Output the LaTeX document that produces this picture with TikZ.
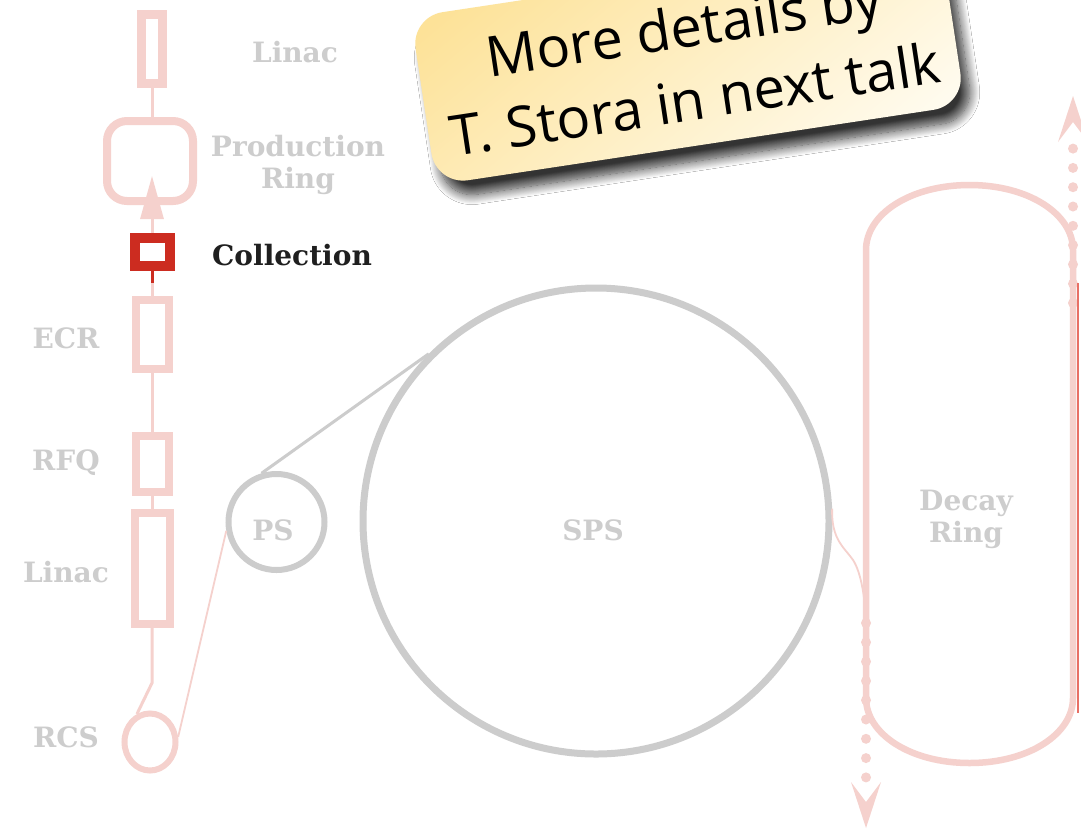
\documentclass[tikz,border=0pt]{standalone}
\usepackage{fontspec}
\setmainfont{DejaVu Serif}
\newfontfamily\notefont{Open Sans}
\usetikzlibrary{arrows.meta,shapes.geometric,shadows.blur}

\definecolor{beampink}{RGB}{245,209,205}
\definecolor{ringgray}{RGB}{204,204,204}
\definecolor{labelgray}{RGB}{205,205,205}
\definecolor{collred}{RGB}{204,44,32}
\definecolor{edgered}{RGB}{232,112,102}
\definecolor{noteyellow}{RGB}{253,226,152}
\definecolor{notecream}{RGB}{255,251,238}

\tikzset{
  stage/.style={draw=beampink, line width=8pt, rectangle, inner sep=0pt, minimum width=33pt},
  beam/.style={draw=beampink, line width=3pt},
  thinbeam/.style={draw=beampink, line width=1.8pt},
  ringbox/.style={draw=ringgray, circle, inner sep=0pt},
  lbl/.style={text=labelgray, font=\fontsize{28}{32}\selectfont\bfseries, inner sep=0pt, anchor=base},
  dotbeam/.style={draw=beampink, line width=10pt, line cap=round, dash pattern=on 0pt off 19.3pt},
  chevron/.style={fill=beampink}
}

\begin{document}
\begin{tikzpicture}[x=1pt,y=-1pt]
\useasboundingbox (0,0) rectangle (1081,831);
\clip (0,0) rectangle (1081,831);
\fill[white] (0,0) rectangle (1081,831);

% ---- injector chain ----
\node[stage, line width=9pt, minimum width=21pt, minimum height=69pt] (linacT) at (152,48.5) {};
\node[stage, minimum width=86pt, minimum height=80pt, rounded corners=20pt] (prod) at (150,161) {};
\node[stage, draw=collred, line width=10pt, minimum width=35pt, minimum height=28pt] (coll) at (152,252) {};
\node[stage, minimum height=69pt] (ecr) at (152,334.5) {};
\node[stage, minimum height=56pt] (rfq) at (152,464) {};
\node[stage, minimum width=35pt, minimum height=111pt] (linacB) at (152,568.5) {};
\node[draw=beampink, line width=6pt, ellipse, inner sep=0pt, minimum width=51pt, minimum height=57pt] (rcs) at (150,742) {};

% ---- synchrotrons ----
\node[ringbox, line width=6pt, minimum size=96pt] (ps) at (276.5,522) {};
\node[ringbox, line width=7pt, minimum size=466pt] (sps) at (596,521) {};

% ---- connections ----
\draw[beam] (linacT.south) -- (linacT.south |- prod.north);
\coordinate (prodin) at (152,176);
\draw[beam, -{Triangle[length=43pt, width=23pt]}] (coll.north) -- (prodin);
\coordinate (joint) at (152,283);
\draw[collred, line width=3pt] (coll.south) -- (joint);
\draw[beam] (joint) -- (ecr.north);
\draw[beam] (ecr.south) -- (rfq.north);
\draw[beam] (rfq.south) -- (linacB.north);
\coordinate (kink) at (152,683);
\draw[beam] (linacB.south) -- (kink) -- (rcs.115);
\draw[thinbeam] (rcs.10) -- (ps.190);
\draw[ringgray, line width=3pt] (ps.107) -- (sps.135);

% ---- decay ring ----
\draw[beampink, line width=6.5pt]
  (866,250) .. controls (866,214.1) and (910.3,185) .. (969.5,185)
  .. controls (1028.7,185) and (1073,214.1) .. (1073,250)
  -- (1073,698)
  .. controls (1073,733.9) and (1028.7,763) .. (969.5,763)
  .. controls (910.3,763) and (866,733.9) .. (866,698) -- cycle;

% extraction from the SPS into the decay ring
\coordinate (merge) at (866,630);
\draw[thinbeam] (sps.3) .. controls (831,540) and (845,548) .. (853,560)
  .. controls (861,572) and (866,600) .. (merge);

% neutrino beams: dotted shafts with chevron heads
\coordinate (lowstart) at (866,623);
\coordinate (lowend) at (866,828);
\coordinate (highstart) at (1073,303);
\coordinate (highend) at (1073,96);
\draw[dotbeam] (lowstart) -- (866,782);
\fill[chevron] (lowend) -- ++(-15,-46) -- ++(15,20) -- ++(15,-20) -- cycle;
\draw[dotbeam] (highstart) -- (1073,142);
\fill[chevron] (highend) -- ++(-15,46) -- ++(15,-20) -- ++(15,20) -- cycle;

\coordinate (edgetop) at (1078,283);
\coordinate (edgebot) at (1078,713);
\draw[edgered, line width=2pt] (edgetop) -- (edgebot);

% ---- labels ----
\node[lbl] (lLinacT) at (295,62) {Linac};
\node[lbl, align=center] (lProd) at (298,188) {Production\\Ring};
\node[lbl, text=black!88] (lColl) at (292,265) {Collection};
\node[lbl] (lECR) at (66,348) {ECR};
\node[lbl] (lRFQ) at (66,470) {RFQ};
\node[lbl] (lLinacB) at (66,582) {Linac};
\node[lbl] (lRCS) at (66,747) {RCS};
\node[lbl] (lPS) at (273,540) {PS};
\node[lbl] (lSPS) at (593,540) {SPS};
\node[lbl, align=center] (lDecay) at (966,542) {Decay\\Ring};

% ---- note ----
\begin{scope}[shift={(688,61)}, rotate=8.6, transform shape]
  \node[rounded corners=32pt, minimum width=535pt, minimum height=170pt,
        top color=noteyellow, bottom color=notecream, shading angle=40,
        blur shadow={shadow xshift=9pt, shadow yshift=-14pt, shadow blur radius=10pt,
                     shadow blur steps=14, shadow opacity=80}] (noteframe) at (0,0) {};
  \node[font=\notefont\fontsize{56}{73}\selectfont, align=center, inner sep=0pt] (note) at (1,2)
    {More details by\\T. Stora in next talk};
\end{scope}
\end{tikzpicture}
\end{document}
